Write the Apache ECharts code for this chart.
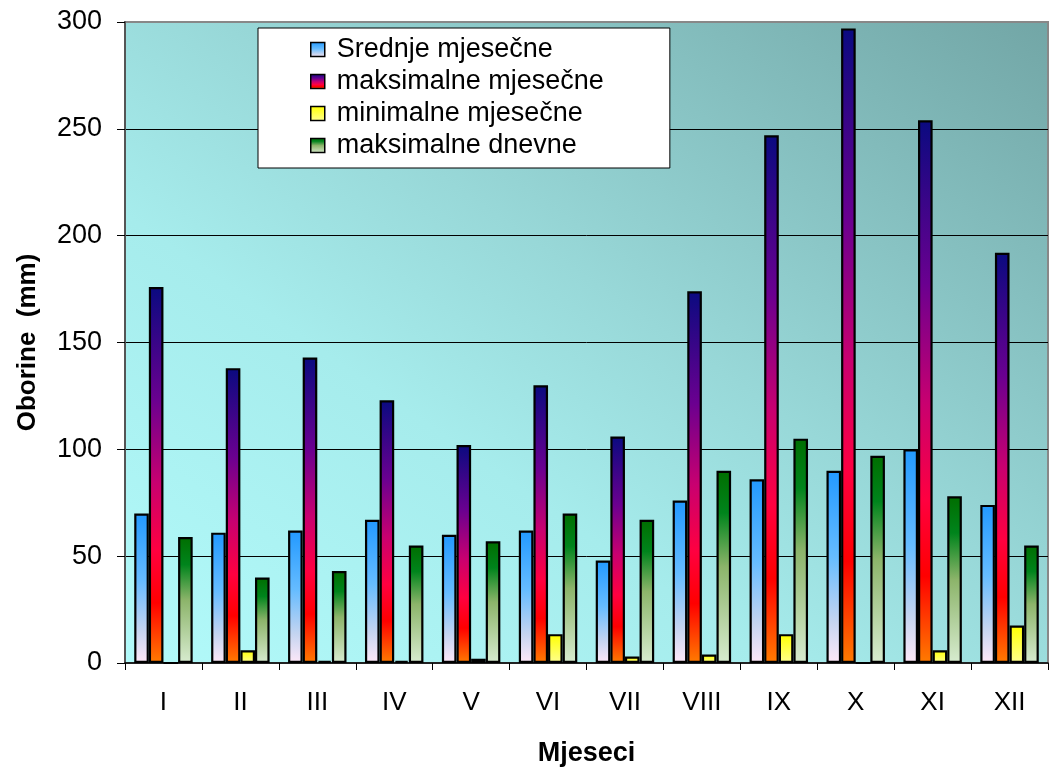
<!DOCTYPE html>
<html>
<head>
<meta charset="utf-8">
<style>
  html, body { margin: 0; padding: 0; background: #fff; overflow: hidden; }
  #chart { width: 1053px; height: 771px; }
</style>
<script src="https://cdn.jsdelivr.net/npm/echarts@6/dist/echarts.min.js"></script>
</head>
<body>
<div id="chart"></div>
<script>
// month labels + series (mm)
const months = ['I', 'II', 'III', 'IV', 'V', 'VI', 'VII', 'VIII', 'IX', 'X', 'XI', 'XII']
const srednje = [70, 61, 62, 67, 60, 62, 48, 76, 86, 90, 100, 74]
const maksMjesecne = [176, 138, 143, 123, 102, 130, 106, 174, 247, 297, 254, 192]
const minMjesecne = [0, 6, 1, 1, 2, 13.5, 3, 4, 13.5, 0, 6, 17.5]
const maksDnevne = [59, 40, 43, 55, 57, 70, 67, 90, 105, 97, 78, 55]
const yTicks = [0, 50, 100, 150, 200, 250, 300]

const FONT = 'Arial, "Liberation Sans", sans-serif'

function vgrad(stops) {
  return new echarts.graphic.LinearGradient(0, 0, 0, 1,
    stops.map(([offset, color]) => ({ offset, color })))
}

const fills = {
  srednje: vgrad([[0, '#2299ff'], [0.45, '#66bcff'], [0.78, '#c4d4f0'], [1, '#ffe8f8']]),
  maks: vgrad([[0, '#0a0a80'], [0.3, '#6a0090'], [0.52, '#c80070'], [0.7, '#ff0040'], [0.84, '#ff0000'], [1, '#ff7c00']]),
  min: vgrad([[0, '#ffff00'], [1, '#ffff90']]),
  dnevne: vgrad([[0, '#006e00'], [0.22, '#00841c'], [0.5, '#8cb46a'], [1, '#d8ecd0']]),
}

// plot background: diagonal, isolines along the top-left -> bottom-right diagonal
const PL = 125, PT = 22, PR = 1048, PB = 663
const pw = PR - PL, ph = PB - PT
const dn = Math.hypot(pw, ph)
const reach = (pw * ph * 2) / dn
const bgFill = new echarts.graphic.LinearGradient(
  PL, PB, PL + ph / dn * reach, PB - pw / dn * reach, [
    { offset: 0, color: '#b2fafa' },
    { offset: 0.35, color: '#a6ecec' },
    { offset: 0.55, color: '#98d8d8' },
    { offset: 1, color: '#72a6a6' },
  ], true)

function bar(name, data, color) {
  return {
    name, type: 'bar', data,
    barGap: '0%', barCategoryGap: '24%',
    itemStyle: { color, borderColor: '#000', borderWidth: 2.2 },
    emphasis: { disabled: true },
  }
}

const chart = echarts.init(document.getElementById('chart'), null, { renderer: 'canvas' })

chart.setOption({
  animation: false,
  backgroundColor: '#fff',
  textStyle: { fontFamily: FONT },
  grid: {
    left: PL, right: 1053 - PR, top: PT, bottom: 771 - PB,
    outerBoundsMode: 'none',
    containLabel: false,
    show: true,
    borderColor: '#888', borderWidth: 2,
    backgroundColor: bgFill,
  },
  legend: {
    orient: 'vertical',
    left: 258, top: 28,
    padding: [8, 66, 9, 52],
    itemGap: 5,
    itemWidth: 14, itemHeight: 14,
    icon: 'rect',
    backgroundColor: '#fff',
    borderColor: '#000', borderWidth: 1,
    itemStyle: { borderColor: '#000', borderWidth: 1.5 },
    textStyle: { color: '#000', fontSize: 27, fontFamily: FONT, padding: [0, 0, 0, 7] },
  },
  xAxis: {
    type: 'category', data: months,
    name: 'Mjeseci', nameLocation: 'middle', nameGap: 77,
    nameTextStyle: { color: '#000', fontSize: 27, fontWeight: 'bold', fontFamily: FONT },
    axisLine: { lineStyle: { color: '#000', width: 1.5 } },
    axisTick: { show: true, length: 7, lineStyle: { color: '#000' } },
    axisLabel: { color: '#000', fontSize: 26, margin: 27, fontFamily: FONT },
  },
  yAxis: {
    type: 'value', min: yTicks[0], max: yTicks[yTicks.length - 1], interval: 50,
    name: 'Oborine  (mm)', nameLocation: 'middle', nameGap: 84,
    nameTextStyle: { color: '#000', fontSize: 26, fontWeight: 'bold', fontFamily: FONT },
    axisLine: { show: true, lineStyle: { color: '#555', width: 2 } },
    axisTick: { show: true, length: 8, lineStyle: { color: '#000' } },
    axisLabel: { color: '#000', fontSize: 27, margin: 23, fontFamily: FONT },
    splitLine: { show: true, showMinLine: false, showMaxLine: false, lineStyle: { color: '#000', width: 1 } },
  },
  series: [
    bar('Srednje mjesečne', srednje, fills.srednje),
    bar('maksimalne mjesečne', maksMjesecne, fills.maks),
    bar('minimalne mjesečne', minMjesecne, fills.min),
    bar('maksimalne dnevne', maksDnevne, fills.dnevne),
  ],
})
</script>
</body>
</html>
